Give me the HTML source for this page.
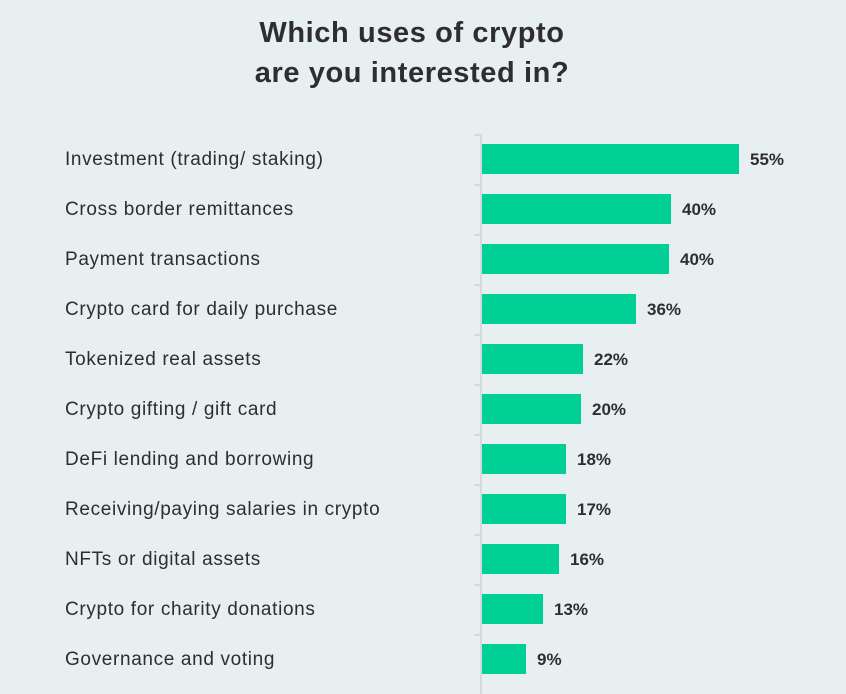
<!DOCTYPE html><html><head><style>
body{margin:0;width:846px;height:687px;background:#e8eff1;font-family:"Liberation Sans",sans-serif;position:relative;overflow:hidden;color:#2e2e2e}
.t{position:absolute;left:0;width:824px;text-align:center;font-weight:bold;font-size:29px;letter-spacing:0.6px;line-height:40px;top:13px}
.l{position:absolute;left:65px;font-size:19px;letter-spacing:0.65px;line-height:30px}
.b{position:absolute;left:482px;height:30px;background:#00d095}
.v{position:absolute;font-weight:bold;font-size:17px;line-height:30px}
.ax{position:absolute;left:480px;top:134px;width:2px;height:560px;background:#d4d9dc}
.tk{position:absolute;left:474px;width:7px;height:2px;background:#d4d9dc}
</style></head><body>
<div class="t">Which uses of crypto<br>are you interested in?</div>
<div class="ax"></div>
<div id="c"></div>
<script>
var d=[["Investment (trading/ staking)",55,739],["Cross border remittances",40,671],["Payment transactions",40,669],["Crypto card for daily purchase",36,636],["Tokenized real assets",22,583],["Crypto gifting / gift card",20,581],["DeFi lending and borrowing",18,566],["Receiving/paying salaries in crypto",17,566],["NFTs or digital assets",16,559],["Crypto for charity donations",13,543],["Governance and voting",9,526]];
var h="";d.forEach(function(r,i){var y=144+i*50;
h+='<div class="tk" style="top:'+(y-10)+'px"></div><div class="l" style="top:'+(y+1)+'px">'+r[0]+'</div><div class="b" style="top:'+y+'px;width:'+(r[2]-482)+'px"></div><div class="v" style="top:'+(y+1)+'px;left:'+(r[2]+11)+'px">'+r[1]+'%</div>';});
document.getElementById("c").innerHTML=h;
</script></body></html>
